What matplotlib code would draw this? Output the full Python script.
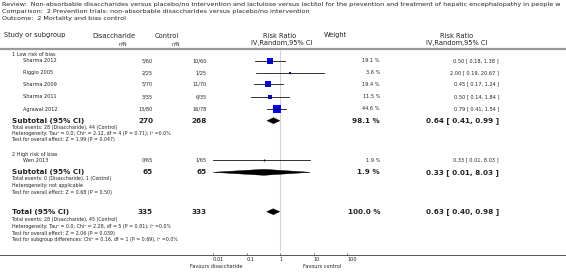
import numpy as np
import matplotlib.pyplot as plt
from matplotlib.patches import Polygon

# =========================
# data
# =========================
title_lines = [
    "Review:  Non-absorbable disaccharides versus placebo/no intervention and lactulose versus lactitol "
    "for the prevention and treatment of hepatic encephalopathy in people w",
    "Comparison:  2 Prevention trials: non-absorbable disaccharides versus placebo/no intervention",
    "Outcome:  2 Mortality and bias control",
]

group_names = ["1 Low risk of bias", "2 High risk of bias"]

studies = ["Sharma 2012", "Riggio 2005", "Sharma 2009", "Sharma 2011", "Agrawal 2012", "Wen 2013"]
dis_n = ["5/60", "2/25", "5/70", "3/35", "13/80", "0/65"]
ctl_n = ["10/60", "1/25", "11/70", "6/35", "16/78", "1/65"]
weights = [19.1, 3.6, 19.4, 11.5, 44.6, 1.9]
rr = [0.50, 2.00, 0.45, 0.50, 0.79, 0.33]
rr_lo = [0.18, 0.19, 0.17, 0.14, 0.41, 0.01]
rr_hi = [1.38, 20.67, 1.24, 1.84, 1.54, 8.03]

# subtotal 1, subtotal 2, total
sum_labels = ["Subtotal (95% CI)", "Subtotal (95% CI)", "Total (95% CI)"]
sum_dis = [270, 65, 335]
sum_ctl = [268, 65, 333]
sum_w = [98.1, 1.9, 100.0]
sum_rr = [0.64, 0.33, 0.63]
sum_lo = [0.41, 0.01, 0.40]
sum_hi = [0.99, 8.03, 0.98]

stats_1 = [
    "Total events: 28 (Disaccharide), 44 (Control)",
    "Heterogeneity: Tau\u00b2 = 0.0; Chi\u00b2 = 2.12, df = 4 (P = 0.71); I\u00b2 =0.0%",
    "Test for overall effect: Z = 1.99 (P = 0.047)",
]
stats_2 = [
    "Total events: 0 (Disaccharide), 1 (Control)",
    "Heterogeneity: not applicable",
    "Test for overall effect: Z = 0.68 (P = 0.50)",
]
stats_tot = [
    "Total events: 28 (Disaccharide), 45 (Control)",
    "Heterogeneity: Tau\u00b2 = 0.0; Chi\u00b2 = 2.28, df = 5 (P = 0.81); I\u00b2 =0.0%",
    "Test for overall effect: Z = 2.06 (P = 0.039)",
    "Test for subgroup differences: Chi\u00b2 = 0.16, df = 1 (P = 0.69), I\u00b2 =0.0%",
]

ticks = [0.01, 0.1, 1, 10, 100]
tick_labels = ["0.01", "0.1", "1", "10", "100"]

# =========================
# layout (pixels)
# =========================
W, H = 566, 272
TXT = "#222222"
FS_T, FS_H, FS_S, FS_B = 4.55, 4.8, 3.6, 5.2

x_study, x_group = 23, 12
x_dis, x_ctl, x_w, x_ci = 153, 207, 380, 499
study_y = [61, 72.7, 84, 96.7, 109, 160]
group_y = [55, 154.3]
sum_y = [120.7, 172.3, 211.7]
stats_y = [[127.7, 134, 140], [178.3, 185.7, 192.3], [219.3, 226.3, 233, 239.7]]
ax_left, ax_right, ax_top, ax_bot = 213, 347, 48, 255

fig = plt.figure(figsize=(W / 100, H / 100), dpi=100)
ax = fig.add_axes([0, 0, 1, 1])
ax.set_xlim(0, W)
ax.set_ylim(H, 0)
ax.axis("off")

def txt(x, y, s, fs=FS_S, ha="left", bold=False, color=TXT):
    ax.text(x, y, s, fontsize=fs, ha=ha, va="center", color=color,
            fontweight="bold" if bold else "normal", clip_on=True)

# title
for i, line in enumerate(title_lines):
    txt(2, 4.6 + i * 7, line, fs=FS_T)

# column headers
txt(4, 35.5, "Study or subgroup", fs=FS_H)
txt(114, 35.5, "Disaccharide", fs=FS_H, ha="center")
txt(123, 43.5, "n/N", fs=FS_S, ha="center")
txt(167, 35.5, "Control", fs=FS_H, ha="center")
txt(176, 43.5, "n/N", fs=FS_S, ha="center")
txt(280, 35.5, "Risk Ratio", fs=FS_H, ha="center")
txt(282, 43.5, "IV,Random,95% CI", fs=FS_H, ha="center")
txt(335, 35.5, "Weight", fs=FS_H, ha="center")
txt(457, 35.5, "Risk Ratio", fs=FS_H, ha="center")
txt(457, 43.5, "IV,Random,95% CI", fs=FS_H, ha="center")
ax.plot([0, W], [49, 49], color="#9a9a9a", lw=1.6, solid_capstyle="butt")

# group labels and study rows
for g, y in zip(group_names, group_y):
    txt(x_group, y, g)
for i, s in enumerate(studies):
    y = study_y[i]
    txt(x_study, y, s)
    txt(x_dis, y, dis_n[i], ha="right")
    txt(x_ctl, y, ctl_n[i], ha="right")
    txt(x_w, y, f"{weights[i]:.1f} %", ha="right")
    txt(x_ci, y, f"{rr[i]:.2f} [ {rr_lo[i]:.2f}, {rr_hi[i]:.2f} ]", ha="right")

# subtotals / total
for i, lab in enumerate(sum_labels):
    y = sum_y[i]
    txt(x_group, y, lab, fs=FS_B, bold=True)
    txt(x_dis, y, str(sum_dis[i]), fs=FS_B, ha="right", bold=True)
    txt(x_ctl, y, str(sum_ctl[i]), fs=FS_B, ha="right", bold=True)
    txt(x_w, y, f"{sum_w[i]:.1f} %", fs=FS_B, ha="right", bold=True)
    txt(x_ci, y, f"{sum_rr[i]:.2f} [ {sum_lo[i]:.2f}, {sum_hi[i]:.2f} ]", fs=FS_B, ha="right", bold=True)

for lines, ys in zip([stats_1, stats_2, stats_tot], stats_y):
    for s, y in zip(lines, ys):
        txt(x_group, y, s, fs=3.4)

# bottom axis line and favours labels
ax.plot([0, W], [ax_bot, ax_bot], color="#555555", lw=0.7)
txt(216, 266.7, "Favours disaccharide", ha="center")
txt(322, 266.7, "Favours control", ha="center")

# =========================
# forest panel (log scale)
# =========================
fax = fig.add_axes([ax_left / W, (H - ax_bot) / H, (ax_right - ax_left) / W, (ax_bot - ax_top) / H])
fax.set_xscale("log")
fax.set_xlim(0.01, 100)
fax.set_ylim(ax_bot, ax_top)
fax.patch.set_alpha(0)
for sp in fax.spines.values():
    sp.set_visible(False)
fax.set_yticks([])
fax.set_xticks(ticks)
fax.set_xticklabels(tick_labels)
fax.minorticks_off()
fax.tick_params(axis="x", direction="in", length=1.5, width=0.5, pad=1.2,
                labelsize=3.6, colors="#444444", labelcolor=TXT)
for lab in fax.get_xticklabels():
    lab.set_ha("left")

fax.plot([1, 1], [ax_top + 2, ax_bot - 5], color="#d4d4d4", lw=0.8, zorder=1)

for i in range(len(studies)):
    y = study_y[i]
    side = 1.15 * np.sqrt(weights[i]) * 0.72
    fax.plot(rr[i], y, marker="s", ms=side, color="#0000ff", mec="#0000ff", mew=0, zorder=2, clip_on=False)
    fax.plot([rr_lo[i], rr_hi[i]], [y, y], color="#111111", lw=0.6, zorder=3, clip_on=False)
    fax.plot(rr[i], y, marker="|", ms=1.6, mew=0.5, color="#111111", zorder=3, clip_on=False)

for i in range(len(sum_rr)):
    y = sum_y[i]
    d = Polygon([(sum_lo[i], y), (sum_rr[i], y - 3), (sum_hi[i], y), (sum_rr[i], y + 3)],
                closed=True, facecolor="black", edgecolor="black", lw=0.3, zorder=3, clip_on=False)
    fax.add_patch(d)

plt.savefig("out.png", dpi=100)
